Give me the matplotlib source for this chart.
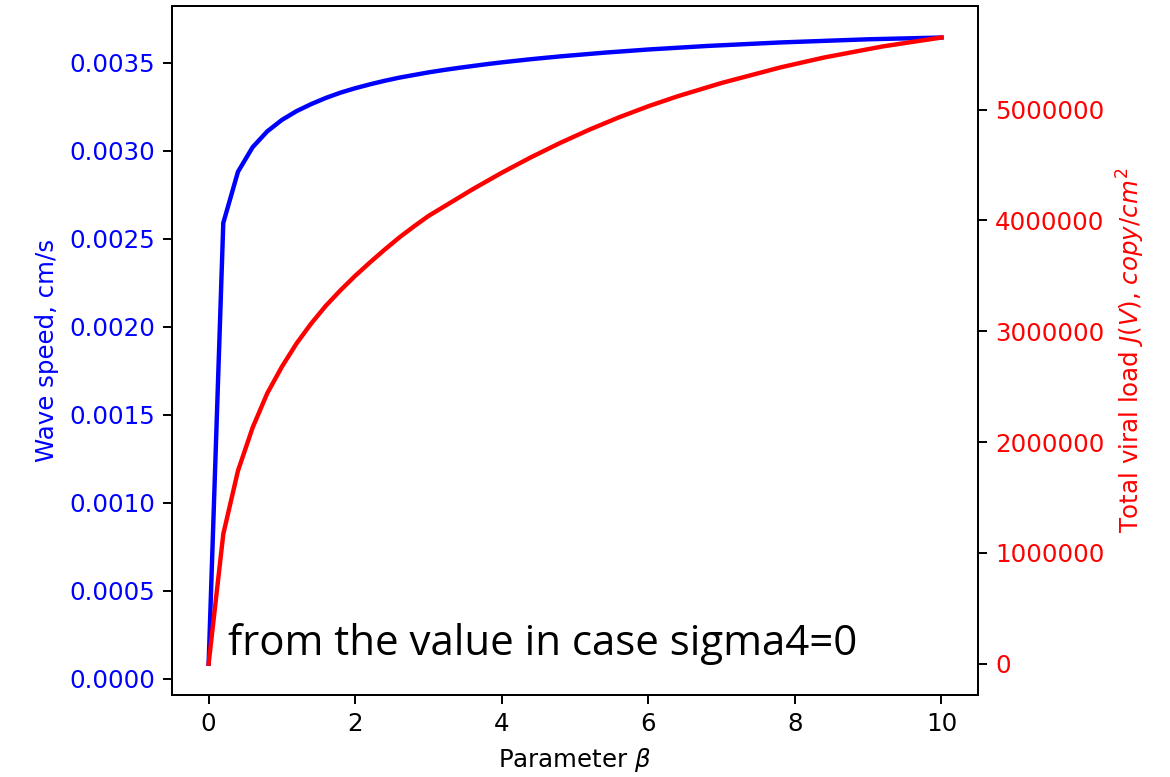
import matplotlib
matplotlib.use("Agg")
import matplotlib.pyplot as plt

# parameter beta, step 0.2
beta = [round(0.2 * i, 1) for i in range(51)]

# wave speed, cm/s
speed = [0.000086, 0.00259, 0.00288, 0.00302, 0.00311, 0.003175, 0.003225, 0.003265,
         0.00330, 0.00333, 0.003355, 0.003377, 0.003397, 0.003415, 0.00343, 0.003445,
         0.003458, 0.00347, 0.003481, 0.003492, 0.003502, 0.003511, 0.00352, 0.003528,
         0.003536, 0.003543, 0.00355, 0.003557, 0.003563, 0.003569, 0.003575, 0.00358,
         0.003585, 0.00359, 0.003595, 0.003599, 0.003603, 0.003607, 0.003611, 0.003615,
         0.003618, 0.003621, 0.003624, 0.003627, 0.00363, 0.003633, 0.003635, 0.003637,
         0.003639, 0.003641, 0.003643]

# total viral load J(V), copy/cm^2
load = [0, 1170000, 1740000, 2130000, 2440000, 2680000, 2890000, 3070000, 3230000,
        3370000, 3500000, 3620000, 3735000, 3845000, 3945000, 4040000, 4120000, 4200000,
        4280000, 4355000, 4430000, 4500000, 4570000, 4635000, 4700000, 4760000, 4820000,
        4875000, 4930000, 4980000, 5030000, 5075000, 5120000, 5160000, 5200000, 5240000,
        5275000, 5310000, 5345000, 5380000, 5410000, 5440000, 5470000, 5495000, 5520000,
        5545000, 5570000, 5590000, 5610000, 5630000, 5650000]

fig = plt.figure(figsize=(1170 / 176, 777 / 176), dpi=176)
ax1 = fig.add_axes([0.147, 0.1055, 0.689, 0.8865])
ax2 = ax1.twinx()

ax1.plot(beta, speed, color="b", lw=1.8)
ax2.plot(beta, load, color="r", lw=1.8)

ax1.set_xlabel(r"Parameter $\beta$")
ax1.set_ylabel("Wave speed, cm/s", color="b")
ax1.tick_params(axis="y", labelcolor="b")
ax2.set_ylabel(r"Total viral load $J(V)$, $copy/cm^2$", color="r")
ax2.tick_params(axis="y", labelcolor="r")
ax2.ticklabel_format(axis="y", style="plain", useOffset=False)

fig.text(228 / 1170, 1 - 655 / 777, "from the value in case sigma4=0",
         fontsize=17.2, family="Open Sans", va="baseline", ha="left")

fig.savefig("out.png", dpi=176)
